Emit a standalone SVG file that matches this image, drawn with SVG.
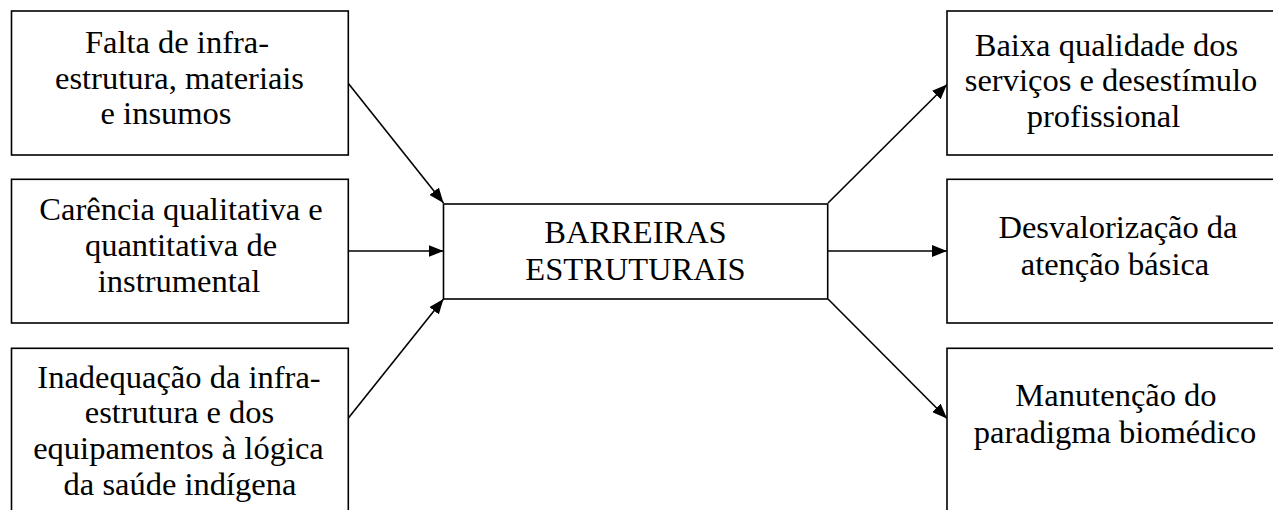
<svg xmlns="http://www.w3.org/2000/svg" width="1273" height="510" viewBox="0 0 1273 510">
<style>
.box{fill:#fff;stroke:#000;stroke-width:1.6}
.t{font-family:"Liberation Serif","Times New Roman",serif;font-size:32.5px;fill:#000;text-anchor:middle}
.c{stroke:#000;stroke-width:1.6;fill:none;marker-end:url(#ah)}
</style>
<defs>
<marker id="ah" markerUnits="userSpaceOnUse" markerWidth="16" markerHeight="12" refX="15" refY="6" orient="auto">
<path d="M0,0 L15,6 L0,12 z" fill="#000"/>
</marker>
</defs>
<rect width="1273" height="510" fill="#fff"/>
<g id="connectors">
<line class="c" x1="348" y1="83" x2="443.5" y2="203"/>
<line class="c" x1="348" y1="251" x2="443.5" y2="251"/>
<line class="c" x1="348" y1="418.5" x2="443.5" y2="299"/>
<line class="c" x1="828" y1="203" x2="947" y2="84.5"/>
<line class="c" x1="828" y1="251" x2="947" y2="251"/>
<line class="c" x1="828" y1="299" x2="947" y2="418.5"/>
</g>
<g id="n-falta">
<rect class="box" x="11.5" y="11" width="336.8" height="144"/>
<text class="t"><tspan x="177" y="53">Falta de infra-</tspan><tspan x="179.5" y="89">estrutura, materiais</tspan><tspan x="166" y="124">e insumos</tspan></text>
</g>
<g id="n-carencia">
<rect class="box" x="11.5" y="179.3" width="336.8" height="143.7"/>
<text class="t"><tspan x="181" y="220">Carência qualitativa e</tspan><tspan x="181" y="256">quantitativa de</tspan><tspan x="179" y="292">instrumental</tspan></text>
</g>
<g id="n-inadequacao">
<rect class="box" x="11.5" y="348.3" width="336.8" height="200"/>
<text class="t"><tspan x="179" y="388">Inadequação da infra-</tspan><tspan x="179.5" y="423">estrutura e dos</tspan><tspan x="178.5" y="459">equipamentos à lógica</tspan><tspan x="180" y="495">da saúde indígena</tspan></text>
</g>
<g id="n-barreiras">
<rect class="box" x="443.5" y="204" width="384.2" height="95"/>
<text class="t"><tspan x="635.5" y="243">BARREIRAS</tspan><tspan x="635.5" y="280">ESTRUTURAIS</tspan></text>
</g>
<g id="n-baixa">
<rect class="box" x="947" y="11" width="340" height="144"/>
<text class="t"><tspan x="1106.5" y="55.5">Baixa qualidade dos</tspan><tspan x="1111" y="91">serviços e desestímulo</tspan><tspan x="1103.5" y="126.5">profissional</tspan></text>
</g>
<g id="n-desvalorizacao">
<rect class="box" x="947" y="179.3" width="340" height="143.7"/>
<text class="t"><tspan x="1118" y="238">Desvalorização da</tspan><tspan x="1115" y="275">atenção básica</tspan></text>
</g>
<g id="n-manutencao">
<rect class="box" x="947" y="348.3" width="340" height="200"/>
<text class="t"><tspan x="1116" y="406">Manutenção do</tspan><tspan x="1115" y="443">paradigma biomédico</tspan></text>
</g>
</svg>
